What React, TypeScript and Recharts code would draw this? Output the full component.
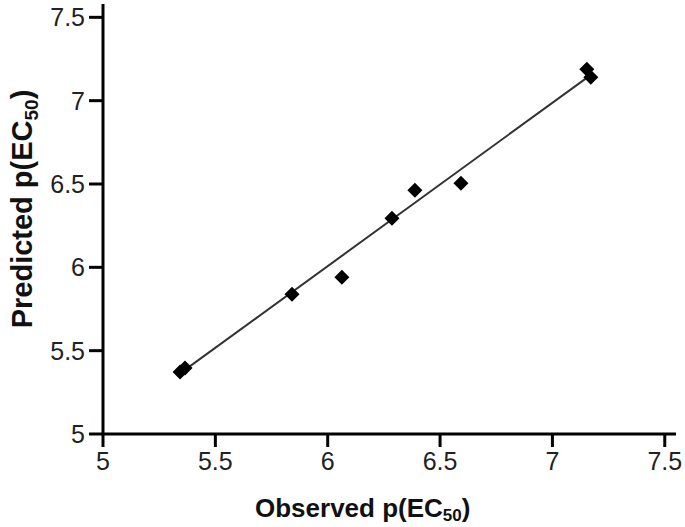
import React from 'react';
import { ScatterChart, Scatter, XAxis, YAxis, ReferenceLine, Label } from 'recharts';

const observed = [5.343, 5.365, 5.841, 6.063, 6.286, 6.388, 6.593, 7.153, 7.171];
const predicted = [5.372, 5.396, 5.839, 5.941, 6.295, 6.463, 6.505, 7.188, 7.14];

// ends of the fitted line
const fitX = [5.36, 7.162];
const fitY = [5.38, 7.146];

const axisTicks = [5, 5.5, 6, 6.5, 7, 7.5];

const points = observed.map((x, i) => ({ x, y: predicted[i] }));

const FONT = '"Liberation Sans", Arial, Helvetica, sans-serif';

const Diamond = (props: any) => {
  const { cx, cy } = props;
  const r = 7.5;
  return <path d={`M${cx},${cy - r}L${cx + r},${cy}L${cx},${cy + r}L${cx - r},${cy}Z`} fill="#000" />;
};

const XTitle = () => (
  <text x={255} y={517} fontFamily={FONT} fontWeight="bold" fontSize={26} fill="#111">
    Observed p(EC<tspan fontSize={17} dy={4}>50</tspan><tspan dy={-4}>)</tspan>
  </text>
);

const YTitle = () => (
  <text
    x={32}
    y={209}
    transform="rotate(-90, 32, 209)"
    textAnchor="middle"
    fontFamily={FONT}
    fontWeight="bold"
    fontSize={29}
    fill="#111"
  >
    Predicted p(EC<tspan fontSize={19} dy={6}>50</tspan><tspan dy={-6}>)</tspan>
  </text>
);

const tickStyle = { fontSize: 25, fill: '#222', fontFamily: FONT };

export default function App() {
  return (
    <div style={{ position: 'absolute', left: 0, top: 0, width: 685, height: 527, background: '#fff' }}>
      <ScatterChart width={685} height={527} margin={{ top: 4, right: 9, bottom: 0, left: 0 }}>
        <XAxis
          type="number"
          dataKey="x"
          domain={[5, 7.55]}
          ticks={axisTicks}
          height={93}
          tickSize={13}
          tickMargin={5}
          tick={tickStyle}
          axisLine={{ stroke: '#000', strokeWidth: 3 }}
          tickLine={{ stroke: '#000', strokeWidth: 3 }}
          allowDataOverflow
        >
          <Label content={<XTitle />} />
        </XAxis>
        <YAxis
          type="number"
          dataKey="y"
          domain={[5, 7.58]}
          ticks={axisTicks}
          width={103}
          tickSize={14}
          tickMargin={4}
          tick={tickStyle}
          axisLine={{ stroke: '#000', strokeWidth: 3 }}
          tickLine={{ stroke: '#000', strokeWidth: 3 }}
          allowDataOverflow
        >
          <Label content={<YTitle />} />
        </YAxis>
        <ReferenceLine
          segment={[
            { x: fitX[0], y: fitY[0] },
            { x: fitX[1], y: fitY[1] },
          ]}
          stroke="#333"
          strokeWidth={2}
        />
        <Scatter data={points} shape={<Diamond />} isAnimationActive={false} />
      </ScatterChart>
    </div>
  );
}
